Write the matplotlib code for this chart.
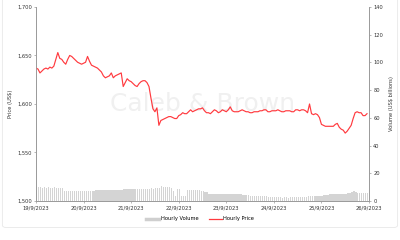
import numpy as np
import matplotlib.pyplot as plt
from matplotlib.lines import Line2D
from matplotlib.patches import FancyBboxPatch

# Hourly data, 19/9/2023 00:00 -> 25/9/2023 23:00 (one row per day)
price = [
    1637, 1636, 1632, 1634, 1636, 1637, 1636, 1638, 1637, 1639, 1646, 1653,
    1647, 1646, 1643, 1641, 1646, 1650, 1649, 1647, 1645, 1643, 1642, 1641,
    1642, 1643, 1649, 1644, 1640, 1639, 1638, 1637, 1635, 1633, 1629, 1627,
    1628, 1629, 1632, 1627, 1629, 1630, 1631, 1632, 1618, 1622, 1626, 1624,
    1623, 1621, 1619, 1618, 1621, 1623, 1624, 1624, 1622, 1618, 1606, 1595,
    1592, 1596, 1578, 1583, 1584, 1585, 1586, 1587, 1587, 1586, 1585, 1585,
    1588, 1589, 1591, 1590, 1590, 1592, 1594, 1592, 1593, 1594, 1595, 1595,
    1596, 1593, 1591, 1591, 1590, 1592, 1594, 1593, 1591, 1592, 1594, 1593,
    1592, 1594, 1597, 1593, 1592, 1592, 1592, 1593, 1594, 1593, 1592, 1592,
    1591, 1591, 1592, 1592, 1592, 1593, 1593, 1594, 1594, 1592, 1592, 1593,
    1593, 1593, 1594, 1593, 1592, 1592, 1593, 1593, 1593, 1592, 1592, 1594,
    1594, 1593, 1594, 1594, 1593, 1591, 1600, 1590, 1589, 1590, 1589, 1586,
    1579, 1578, 1577, 1577, 1577, 1577, 1577, 1579, 1580, 1576, 1574, 1573,
    1570, 1572, 1575, 1578, 1585, 1591, 1592, 1591, 1591, 1588, 1588, 1590,
]

volume = [
    9.9, 9.8, 9.9, 9.7, 9.8, 9.6, 9.8, 9.7, 9.6, 9.8, 9.7, 9.6, 9.7, 9.5,
    7.4, 7.2, 7.3, 7.1, 7.2, 7.2, 7.3, 7.1, 7.2, 7.2,
    7.2, 7.1, 7.3, 7.2, 7.0, 6.9, 7.8, 8.0, 7.9, 7.9, 8.0, 7.8,
    7.9, 7.9, 7.8, 7.6, 7.9, 8.0, 7.9, 8.1, 8.8, 8.9, 9.0, 8.9,
    8.9, 8.8, 9.0, 8.9, 8.8, 8.9, 9.0, 8.9, 8.8, 8.9, 9.1, 9.0,
    9.2, 9.4, 9.6, 10.8, 10.2, 10.4, 10.0, 9.8, 9.6, 7.0, 3.6, 8.6,
    8.6, 3.6, 3.6, 3.6, 7.9, 8.0, 7.8, 7.9, 7.9, 7.8, 7.7, 7.5,
    6.9, 6.7, 6.3, 5.2, 5.0, 5.1, 5.0, 5.0, 4.9, 5.0, 5.0, 5.0,
    5.0, 4.9, 5.0, 5.0, 4.8, 4.9, 4.8, 4.7, 4.6, 4.5, 4.4, 4.2,
    3.9, 3.8, 3.8, 3.7, 3.8, 3.8, 3.7, 3.6, 3.4, 3.2, 2.9, 2.7,
    2.6, 2.6, 2.7, 2.6, 2.5, 2.6, 2.6, 2.5, 2.6, 2.6, 2.7, 2.6,
    2.6, 2.7, 2.8, 2.9, 3.0, 3.4, 3.6, 3.8, 3.8, 3.9, 3.8, 3.9,
    3.9, 4.0, 4.2, 4.6, 4.9, 5.0, 5.0, 4.9, 5.0, 5.1, 5.0, 5.2,
    5.3, 5.5, 5.8, 6.2, 7.2, 6.2, 6.0, 6.1, 6.0, 5.9, 6.0, 5.8,
]

day_labels = ["19/9/2023", "20/9/2023", "21/9/2023", "22/9/2023",
              "23/9/2023", "24/9/2023", "25/9/2023", "26/9/2023"]

hours = np.arange(len(price))
grey = "#9a9a9a"
red = "#ff3a3f"
fs = 3.7

fig = plt.figure(figsize=(4, 2.4), dpi=100)
fig.patches.append(FancyBboxPatch((0.006, 0.052), 0.988, 1.2,
                                  boxstyle="round,pad=0,rounding_size=0.01",
                                  transform=fig.transFigure, fill=False,
                                  edgecolor="#e8e8e8", linewidth=0.6))

ax = fig.add_axes([0.09, 0.1625, 0.8325, 0.8085])
ax2 = ax.twinx()
ax.set_zorder(ax2.get_zorder() + 1)
ax.patch.set_visible(False)

# volume bars (right axis)
ax2.bar(hours, volume, width=0.7, color="#d4d4d4", align="edge")
ax2.set_ylim(0, 140)
ax2.set_yticks(range(0, 141, 20))

# price line (left axis)
ax.plot(hours, price, color=red, linewidth=0.85)
ax.set_ylim(1500, 1700)
ax.set_yticks(range(1500, 1701, 50))
ax.set_yticklabels([f"{v:,}" for v in range(1500, 1701, 50)])
ax.set_xlim(0, 168)
ax.set_xticks(range(0, 169, 24))
ax.set_xticklabels(day_labels)

for a in (ax, ax2):
    for s in a.spines.values():
        s.set_color(grey)
        s.set_linewidth(0.6)
    a.spines["top"].set_visible(False)
    a.tick_params(labelsize=fs, colors="#333333", length=1.5, width=0.5,
                  pad=1.5, color=grey)

ax.set_ylabel("Price (US$)", fontsize=fs, color="#333333", labelpad=3)
ax2.set_ylabel("Volume (US$ billions)", fontsize=fs, color="#333333", labelpad=4)

# watermark
ax.text(0.5, 0.5, "Caleb & Brown", transform=ax.transAxes, fontsize=18,
        color="#f0f0f0", ha="center", va="center", zorder=0)

handles = [Line2D([], [], color="#cfcfcf", linewidth=2.5),
           Line2D([], [], color=red, linewidth=0.9)]
fig.legend(handles, ["Hourly Volume", "Hourly Price"], loc="center",
           bbox_to_anchor=(0.5, 0.088), ncol=2, frameon=False, fontsize=fs,
           handlelength=2.6, handletextpad=0.3, columnspacing=2.0)

fig.savefig("out.png", dpi=100)
